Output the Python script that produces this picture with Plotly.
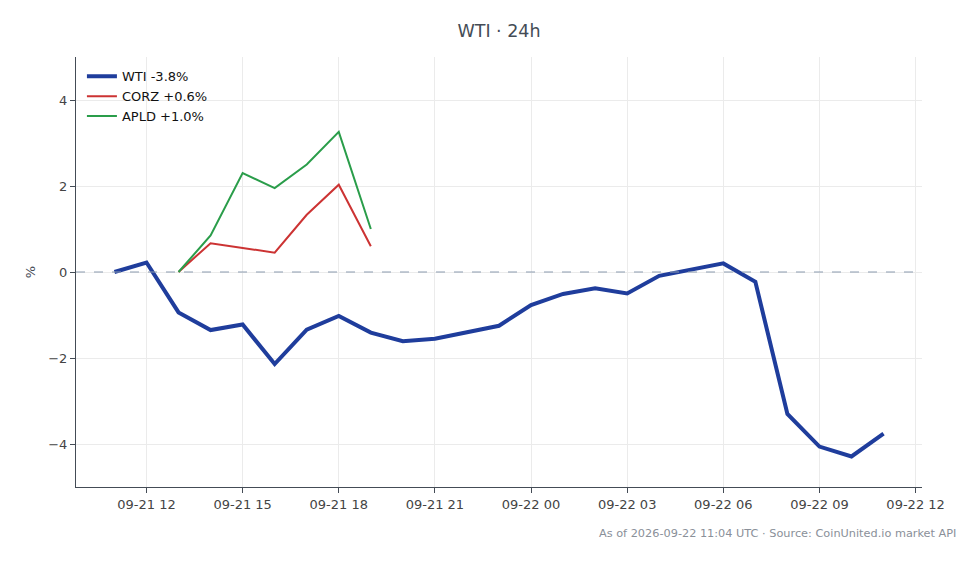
import plotly.graph_objects as go
import pandas as pd

wti_times = pd.date_range("2026-09-21 11:00", "2026-09-22 11:00", freq="h")
wti_values = [0.0, 0.22, -0.94, -1.35, -1.22, -2.14, -1.34, -1.02, -1.41, -1.61,
              -1.55, -1.39, -1.25, -0.77, -0.51, -0.38, -0.50, -0.09, 0.05, 0.20,
              -0.23, -3.30, -4.06, -4.29, -3.76]

peer_times = pd.date_range("2026-09-21 13:00", "2026-09-21 19:00", freq="h")
corz_values = [0.0, 0.67, 0.56, 0.45, 1.33, 2.03, 0.60]
apld_values = [0.0, 0.85, 2.30, 1.95, 2.50, 3.26, 1.00]

series_names = ["WTI -3.8%", "CORZ +0.6%", "APLD +1.0%"]
title_text = "WTI · 24h"
source_text = "As of 2026-09-22 11:04 UTC · Source: CoinUnited.io market API"

FONT = "DejaVu Sans"

fig = go.Figure()
fig.add_trace(go.Scatter(x=wti_times, y=wti_values, mode="lines", name=series_names[0],
                         line=dict(color="#1f3d9c", width=4)))
fig.add_trace(go.Scatter(x=peer_times, y=corz_values, mode="lines", name=series_names[1],
                         line=dict(color="#cc3333", width=2)))
fig.add_trace(go.Scatter(x=peer_times, y=apld_values, mode="lines", name=series_names[2],
                         line=dict(color="#2a9d4a", width=2)))

fig.add_hline(y=0, line=dict(color="#8c9bb0", width=1.2, dash="dash"))

fig.update_layout(
    width=980, height=564,
    margin=dict(l=68, r=66, t=49, b=85),
    paper_bgcolor="white", plot_bgcolor="white",
    font=dict(family=FONT, size=13, color="#444444"),
    title=dict(text=title_text, x=0.5, xref="paper", y=0.959, yref="container",
               xanchor="center", yanchor="middle",
               font=dict(family=FONT, size=17.5, color="#444c56")),
    showlegend=True,
    legend=dict(x=0.007, y=0.99, xanchor="left", yanchor="top",
                bgcolor="rgba(255,255,255,0)", borderwidth=0,
                font=dict(family=FONT, size=13, color="#111111"),
                tracegroupgap=0, itemwidth=30),
    xaxis=dict(
        type="date",
        range=["2026-09-21 09:48", "2026-09-22 12:12"],
        tick0="2026-09-21 00:00", dtick=3 * 3600 * 1000,
        tickformat="%m-%d %H",
        showgrid=True, gridcolor="#ebebeb", gridwidth=1,
        showline=True, linecolor="#444c56", linewidth=1.2,
        ticks="outside", ticklen=5, tickcolor="#444c56",
        zeroline=False,
    ),
    yaxis=dict(
        range=[-5, 5],
        tickvals=[-4, -2, 0, 2, 4],
        showgrid=True, gridcolor="#ebebeb", gridwidth=1,
        showline=True, linecolor="#444c56", linewidth=1.2,
        ticks="outside", ticklen=5, tickcolor="#444c56",
        zeroline=False,
        title=dict(text="%", standoff=9, font=dict(family=FONT, size=13, color="#444c56")),
    ),
)

fig.add_annotation(text=source_text, xref="paper", yref="paper",
                   x=1.042, y=-0.107, xanchor="right", yanchor="middle",
                   showarrow=False, font=dict(family=FONT, size=11.3, color="#8a9099"))

fig.write_html("out.html")
